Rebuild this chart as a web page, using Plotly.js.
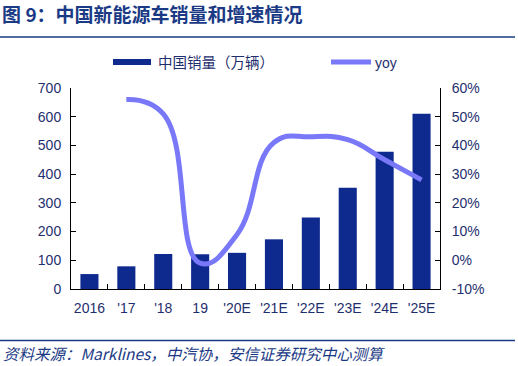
<!DOCTYPE html>
<html>
<head>
<meta charset="utf-8">
<script src="https://cdn.plot.ly/plotly-3.0.1.min.js"></script>
<style>
html,body{margin:0;padding:0;background:#fff;}
#chart{width:518px;height:366px;}
</style>
</head>
<body>
<div id="chart"></div>
<script>
// Data
const categories = ["2016", "'17", "'18", "19", "'20E", "'21E", "'22E", "'23E", "'24E", "'25E"];
const salesValues = [52, 79, 122, 121, 126, 173, 249, 353, 478, 610];   // 中国销量（万辆）
const yoyCategories = ["'17", "'18", "19", "'20E", "'21E", "'22E", "'23E", "'24E", "'25E"];
const yoyValues = [56, 51, -1, 9, 41, 43, 42, 35, 28];                  // yoy (%)
const leftTicks = [0, 100, 200, 300, 400, 500, 600, 700];
const rightTicks = [-10, 0, 10, 20, 30, 40, 50, 60];

const navy = '#0F2A8E';
const lineColor = '#7878F8';
const textColor = '#1F2F6E';
const titleColor = '#1B3A85';
const cjk = '"Noto Sans CJK SC", "Liberation Sans", Arial, sans-serif';
const latin = '"Liberation Sans", Arial, sans-serif';

// plot area in pixels: left 71, right 440, top 88, bottom 289
const L = 71, R = 440, T = 88, B = 289;
const px = x => (x - L) / (R - L);
const py = y => (B - y) / (B - T);

const traces = [
  {
    type: 'bar', x: categories, y: salesValues, name: '中国销量（万辆）',
    marker: {color: navy, line: {width: 0}}, yaxis: 'y', showlegend: false,
    hoverinfo: 'x+y'
  },
  {
    type: 'scatter', mode: 'lines', x: yoyCategories, y: yoyValues, name: 'yoy',
    line: {color: lineColor, width: 5, shape: 'spline', smoothing: 1.3},
    yaxis: 'y2', showlegend: false
  }
];

const layout = {
  width: 518, height: 366,
  margin: {l: L, r: 518 - R, t: T, b: 366 - B, pad: 0},
  paper_bgcolor: '#fff', plot_bgcolor: '#fff',
  bargap: 0.51,
  font: {family: latin, size: 14, color: textColor},
  title: {
    text: '<b>图 9：中国新能源车销量和增速情况</b>',
    x: 0.004, xref: 'container', xanchor: 'left',
    y: 1 - 15 / 366, yref: 'container', yanchor: 'middle',
    font: {family: cjk, size: 19, color: titleColor}
  },
  xaxis: {
    type: 'category', categoryorder: 'array', categoryarray: categories,
    showline: true, linecolor: '#000', linewidth: 1, mirror: false,
    ticks: 'inside', tickson: 'boundaries', ticklen: 5, tickcolor: '#000',
    tickangle: 0, ticklabelstandoff: 6,
    showgrid: false, zeroline: false,
    tickfont: {family: latin, size: 14, color: textColor}
  },
  yaxis: {
    range: [0, 700], tickvals: leftTicks, ticktext: leftTicks.map(String),
    showline: true, linecolor: '#000', linewidth: 1,
    ticks: 'inside', ticklen: 5, tickcolor: '#000', ticklabelstandoff: 6,
    showgrid: false, zeroline: false,
    tickfont: {family: latin, size: 14, color: textColor}
  },
  yaxis2: {
    overlaying: 'y', side: 'right', range: [-10, 60],
    tickvals: rightTicks, ticktext: rightTicks.map(v => v + '%'),
    showline: true, linecolor: '#000', linewidth: 1,
    ticks: 'inside', ticklen: 5, tickcolor: '#000', ticklabelstandoff: 8,
    showgrid: false, zeroline: false,
    tickfont: {family: latin, size: 14, color: textColor}
  },
  shapes: [
    // header rule
    {type: 'line', xref: 'paper', yref: 'paper', x0: px(0), x1: px(515), y0: py(37), y1: py(37),
     line: {color: titleColor, width: 1.5}},
    // footer rule
    {type: 'line', xref: 'paper', yref: 'paper', x0: px(0), x1: px(515), y0: py(340.5), y1: py(340.5),
     line: {color: titleColor, width: 1.5}},
    // legend: bar swatch
    {type: 'rect', xref: 'paper', yref: 'paper', x0: px(113), x1: px(151), y0: py(65), y1: py(59),
     fillcolor: navy, line: {width: 0}},
    // legend: line swatch
    {type: 'line', xref: 'paper', yref: 'paper', x0: px(331), x1: px(371), y0: py(62), y1: py(62),
     line: {color: lineColor, width: 5}}
  ],
  annotations: [
    {text: '中国销量（万辆）', xref: 'paper', yref: 'paper', x: px(156), y: py(62),
     xanchor: 'left', yanchor: 'middle', showarrow: false,
     font: {family: cjk, size: 14.5, color: textColor}},
    {text: 'yoy', xref: 'paper', yref: 'paper', x: px(373), y: py(63),
     xanchor: 'left', yanchor: 'middle', showarrow: false,
     font: {family: latin, size: 14, color: textColor}},
    {text: '<i>资料来源：Marklines，中汽协，安信证券研究中心测算</i>', xref: 'paper', yref: 'paper',
     x: px(1), y: py(353), xanchor: 'left', yanchor: 'middle', showarrow: false,
     font: {family: cjk, size: 15.5, color: titleColor}}
  ]
};

Plotly.newPlot('chart', traces, layout, {displayModeBar: false, staticPlot: true});
</script>
</body>
</html>
